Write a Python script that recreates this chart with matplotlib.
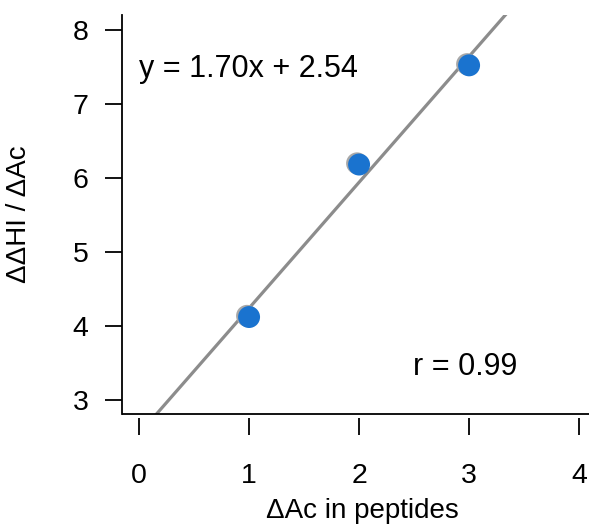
import matplotlib
matplotlib.use("Agg")
import matplotlib.pyplot as plt
import matplotlib.transforms as mtransforms
import numpy as np

plt.rcParams['font.family'] = ['Liberation Sans', 'DejaVu Sans']

x_vals = [1, 2, 3]
y_vals = [4.12, 6.18, 7.52]
slope = 1.70
intercept = 2.54
r_value = 0.99
x_ticks = [0, 1, 2, 3, 4]
y_ticks = [3, 4, 5, 6, 7, 8]

FS_TICK = 20.5
FS_LAB = 20
FS_TXT = 22

fig = plt.figure(figsize=(5.89, 5.26), dpi=100)
ax = fig.add_axes([122/589, 112/526, 1 - 122/589, (414-15)/526])
ax.set_xlim(-0.155, 4.09)
ax.set_ylim(2.81, 8.2)

xl = np.array([-1, 5])
ax.plot(xl, slope * xl + intercept, color='#8c8c8c', lw=2.3, zorder=1)

shadow = mtransforms.offset_copy(ax.transData, fig=fig, x=-2.0, y=1.2, units='dots')
ax.scatter(x_vals, y_vals, s=250, color='#a8a8a8', edgecolors='none', transform=shadow, zorder=2)
ax.scatter(x_vals, y_vals, s=250, color='#1a73cf', edgecolors='none', zorder=3)

ax.spines['top'].set_visible(False)
ax.spines['right'].set_visible(False)
ax.spines['left'].set_linewidth(1.3)
ax.spines['bottom'].set_visible(False)
ax.spines['bottom'].set_position(('outward', 3))
ax.plot([0, 1], [0, 0], transform=ax.transAxes, color='black', lw=1.3, clip_on=False, solid_capstyle='butt')

ax.set_xticks(x_ticks)
ax.set_yticks(y_ticks)
ax.tick_params(axis='both', direction='out', length=12, width=1.3, labelsize=FS_TICK, colors='black')
ax.tick_params(axis='x', pad=20)
ax.tick_params(axis='y', pad=12)

ax.set_xlabel('ΔAc in peptides', fontsize=FS_LAB)
ax.set_ylabel('ΔΔHI / ΔAc', fontsize=FS_LAB)
ax.xaxis.set_label_coords(0.514, -0.21)
ax.yaxis.set_label_coords(-0.193, 0.5)

ax.text(-0.005, 7.36, f'y = {slope:.2f}x + {intercept:.2f}', fontsize=FS_TXT, ha='left', va='baseline')
ax.text(2.49, 3.335, f'r = {r_value:.2f}', fontsize=FS_TXT, ha='left', va='baseline')

fig.savefig('out.png', dpi=100)
